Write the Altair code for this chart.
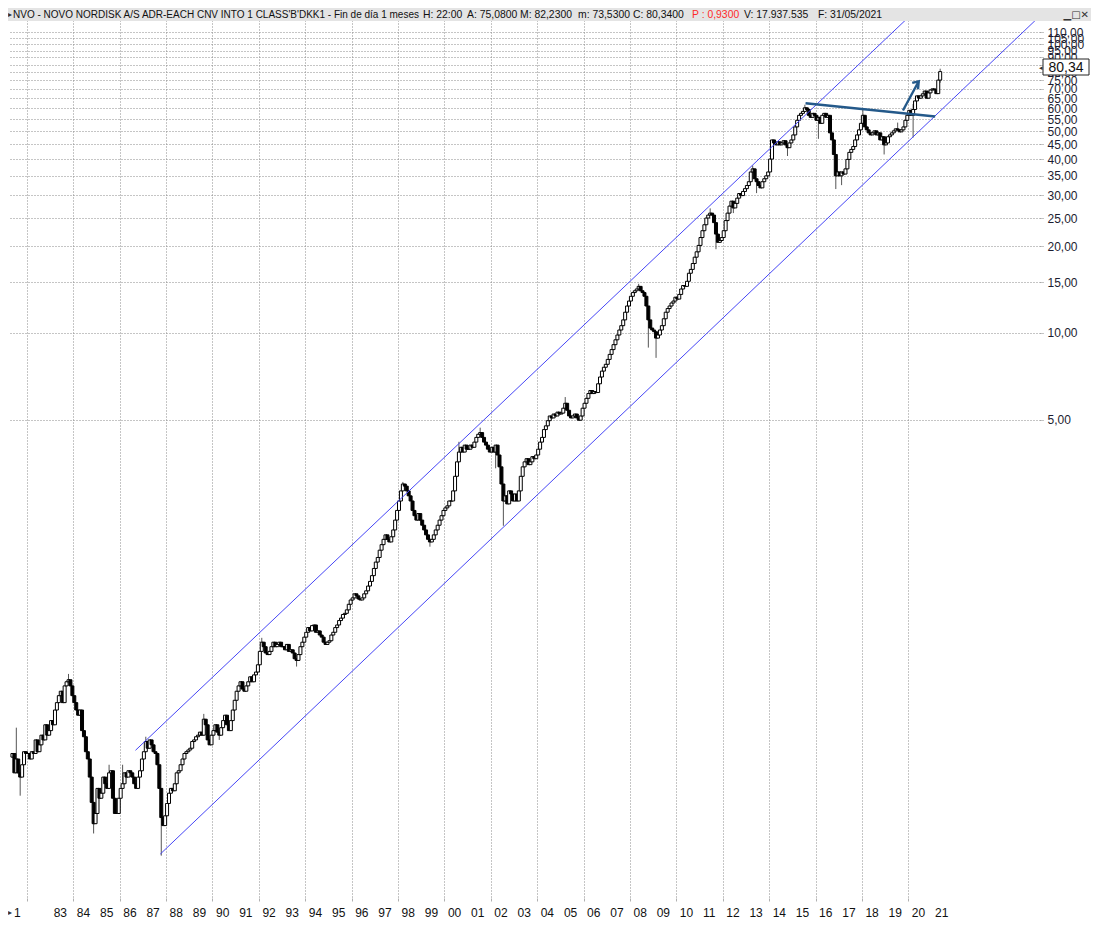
import altair as alt
import pandas as pd

# ---------------- data (monthly closes, USD) ----------------
START_YEAR, START_MONTH = 1981, 5
FIRST_OPEN = 0.34

closes_1981 = [0.35, 0.30, 0.335, 0.30, 0.29, 0.32, 0.355, 0.35]
closes_1982 = [0.35, 0.335, 0.355, 0.35, 0.39, 0.355, 0.375, 0.405, 0.39, 0.44, 0.405, 0.42]
closes_1983 = [0.455, 0.44, 0.495, 0.525, 0.555, 0.575, 0.525, 0.60, 0.62, 0.63, 0.60, 0.555]
closes_1984 = [0.525, 0.495, 0.475, 0.495, 0.42, 0.40, 0.355, 0.335, 0.29, 0.237, 0.20, 0.217]
closes_1985 = [0.265, 0.245, 0.255, 0.29, 0.275, 0.265, 0.30, 0.305, 0.245, 0.217, 0.217, 0.245]
closes_1986 = [0.265, 0.275, 0.30, 0.29, 0.305, 0.30, 0.29, 0.275, 0.265, 0.29, 0.305, 0.335]
closes_1987 = [0.355, 0.385, 0.365, 0.39, 0.375, 0.355, 0.35, 0.32, 0.265, 0.21, 0.197, 0.213]
closes_1988 = [0.235, 0.255, 0.265, 0.26, 0.275, 0.30, 0.305, 0.32, 0.335, 0.35, 0.355, 0.36]
closes_1989 = [0.365, 0.385, 0.39, 0.40, 0.405, 0.415, 0.405, 0.46, 0.44, 0.39, 0.375, 0.405]
closes_1990 = [0.42, 0.44, 0.415, 0.405, 0.43, 0.455, 0.475, 0.44, 0.42, 0.455, 0.495, 0.535]
closes_1991 = [0.575, 0.60, 0.62, 0.585, 0.575, 0.60, 0.62, 0.645, 0.62, 0.655, 0.67, 0.71]
closes_1992 = [0.79, 0.85, 0.82, 0.78, 0.77, 0.79, 0.82, 0.85, 0.82, 0.835, 0.85, 0.82]
closes_1993 = [0.82, 0.80, 0.835, 0.79, 0.80, 0.78, 0.745, 0.735, 0.77, 0.82, 0.85, 0.885]
closes_1994 = [0.92, 0.955, 0.93, 0.97, 0.975, 0.92, 0.93, 0.90, 0.885, 0.85, 0.835, 0.85]
closes_1995 = [0.86, 0.90, 0.92, 0.955, 0.975, 1.01, 1.03, 1.06, 1.07, 1.10, 1.15, 1.19]
closes_1996 = [1.21, 1.25, 1.23, 1.20, 1.19, 1.21, 1.25, 1.28, 1.33, 1.38, 1.445, 1.53]
closes_1997 = [1.61, 1.67, 1.77, 1.85, 1.93, 2.00, 1.93, 1.89, 1.97, 2.08, 2.25, 2.43]
closes_1998 = [2.62, 2.84, 3.00, 2.95, 2.84, 2.73, 2.62, 2.43, 2.33, 2.25, 2.37, 2.25]
closes_1999 = [2.16, 2.08, 2.00, 1.93, 1.89, 1.93, 2.00, 2.08, 2.16, 2.25, 2.33, 2.43]
closes_2000 = [2.48, 2.52, 2.62, 2.62, 2.84, 3.19, 3.58, 3.87, 4.02, 3.87, 4.09, 3.96]
closes_2001 = [3.96, 4.09, 4.02, 4.19, 4.35, 4.46, 4.52, 4.35, 4.19, 4.09, 3.96, 3.87]
closes_2002 = [4.02, 3.87, 4.09, 3.78, 3.44, 3.00, 2.62, 2.73, 2.56, 2.84, 2.77, 2.62]
closes_2003 = [2.77, 2.62, 2.84, 3.19, 3.44, 3.58, 3.67, 3.50, 3.58, 3.73, 3.67, 3.78]
closes_2004 = [3.96, 4.19, 4.35, 4.63, 4.77, 4.97, 5.16, 5.08, 5.24, 5.16, 5.32, 5.24]
closes_2005 = [5.28, 5.49, 5.71, 5.40, 5.16, 5.08, 5.16, 5.24, 5.08, 4.99, 5.16, 5.49]
closes_2006 = [5.71, 5.94, 6.17, 6.32, 6.17, 6.27, 6.22, 6.67, 7.04, 7.38, 7.61, 7.79]
closes_2007 = [8.10, 8.43, 8.76, 9.11, 9.47, 9.84, 10.24, 10.6, 11.1, 11.8, 12.4, 12.9]
closes_2008 = [13.4, 13.8, 14.0, 14.2, 14.5, 14.0, 13.8, 13.4, 12.4, 11.1, 10.4, 10.24]
closes_2009 = [10.1, 9.6, 9.84, 10.24, 10.6, 11.2, 11.8, 12.15, 12.4, 12.7, 12.9, 13.3]
closes_2010 = [13.1, 13.6, 14.2, 14.6, 14.5, 15.1, 16.1, 16.6, 17.4, 18.3, 19.1, 20.1]
closes_2011 = [21.4, 22.6, 23.7, 25.0, 25.6, 26.0, 25.6, 24.1, 22.0, 20.6, 20.9, 21.4]
closes_2012 = [22.6, 24.5, 26.0, 27.5, 28.6, 27.1, 28.1, 29.3, 30.4, 29.9, 30.9, 31.6]
closes_2013 = [32.4, 33.4, 36.1, 37.0, 34.2, 33.4, 32.4, 31.8, 33.4, 34.2, 35.0, 36.1]
closes_2014 = [40.0, 46.6, 45.5, 44.8, 45.9, 44.8, 45.5, 46.3, 44.8, 43.8, 45.5, 46.6]
closes_2015 = [48.5, 51.7, 54.5, 56.7, 57.6, 58.5, 60.2, 59.4, 56.7, 55.8, 57.6, 56.7]
closes_2016 = [54.5, 55.8, 53.2, 56.7, 57.6, 55.8, 56.7, 49.3, 46.6, 41.5, 35.0, 36.1]
closes_2017 = [35.0, 36.1, 35.5, 37.0, 39.9, 42.2, 43.2, 44.2, 46.6, 48.5, 50.5, 53.2]
closes_2018 = [56.7, 51.7, 50.5, 49.3, 48.5, 49.3, 50.1, 48.5, 49.3, 46.6, 47.8, 44.8]
closes_2019 = [45.5, 47.8, 48.5, 49.3, 50.1, 50.9, 50.5, 49.7, 50.5, 51.7, 54.5, 56.7]
closes_2020 = [59.0, 56.7, 59.4, 63.6, 66.2, 65.0, 66.2, 67.3, 68.8, 65.0, 67.8, 69.4]
closes_2021 = [70.0, 69.5, 67.4, 75.08, 80.34]

# notable wick extremes (year, month, price)
high_spikes = [(1981, 7, 0.43), (1983, 10, 0.66), (1985, 7, 0.32), (1986, 2, 0.32),
               (1987, 2, 0.40), (1989, 8, 0.48), (1992, 2, 0.88), (1998, 3, 3.05),
               (2000, 8, 4.2), (2001, 7, 4.7), (2005, 3, 6.0), (2008, 5, 14.8),
               (2011, 6, 27.0), (2013, 4, 38.0), (2015, 7, 61.7), (2018, 1, 60.0),
               (2019, 7, 53.5), (2020, 3, 62.0), (2021, 5, 82.23)]
low_spikes = [(1981, 9, 0.25), (1984, 11, 0.185), (1987, 10, 0.155), (1990, 4, 0.39),
              (1993, 8, 0.70), (1999, 5, 1.82), (2002, 3, 3.4), (2002, 7, 2.15),
              (2008, 10, 8.9), (2009, 2, 8.2), (2011, 9, 19.5), (2012, 6, 26.0),
              (2013, 6, 30.5), (2014, 10, 41.0), (2016, 2, 47.0), (2016, 11, 31.5),
              (2017, 2, 32.5), (2018, 12, 41.5), (2020, 3, 47.5), (2021, 5, 73.53)]

# trend channel and annotations (decimal year, price)
upper_t, upper_p = [1986.68, 2020.43], [0.359, 133.4]
lower_t, lower_p = [1987.75, 2025.46], [0.157, 120.5]
neck_t, neck_p = [2015.57, 2021.16], [62.4, 56.2]
arrow_t, arrow_p = [2019.77, 2020.45], [58.9, 74.4]
head_t, head_p = [2020.17, 2020.45, 2020.42], [73.4, 74.4, 69.8]

y_ticks = [5] + list(range(10, 115, 5))
grid_years = list(range(1982, 2022))
label_years = list(range(1983, 2022))

title_head = "NVO - NOVO NORDISK A/S ADR-EACH CNV INTO 1 CLASS'B'DKK1 - Fin de día 1 meses"
title_fields = ["H: 22:00", "A: 75,0800", "M: 82,2300", "m: 73,5300", "C: 80,3400",
                "P : 0,9300", "V: 17.937.535", "F: 31/05/2021"]
title_colors = ["#111111"] * 5 + ["#ff2a2a"] + ["#111111"] * 2
title_x = [415, 459, 512, 570, 625, 684, 736, 810]
last_label = "80,34"

# ---------------- build candle table ----------------
closes = (closes_1981 + closes_1982 + closes_1983 + closes_1984 + closes_1985 + closes_1986 +
          closes_1987 + closes_1988 + closes_1989 + closes_1990 + closes_1991 + closes_1992 +
          closes_1993 + closes_1994 + closes_1995 + closes_1996 + closes_1997 + closes_1998 +
          closes_1999 + closes_2000 + closes_2001 + closes_2002 + closes_2003 + closes_2004 +
          closes_2005 + closes_2006 + closes_2007 + closes_2008 + closes_2009 + closes_2010 +
          closes_2011 + closes_2012 + closes_2013 + closes_2014 + closes_2015 + closes_2016 +
          closes_2017 + closes_2018 + closes_2019 + closes_2020 + closes_2021)
hi_map = {(y, m): v for y, m, v in high_spikes}
lo_map = {(y, m): v for y, m, v in low_spikes}
rows = []
prev = FIRST_OPEN
for i, c in enumerate(closes):
    k = START_MONTH - 1 + i
    yr, mo = START_YEAR + k // 12, k % 12 + 1
    o = prev
    hi = max(hi_map.get((yr, mo), 0), o, c)
    lo = min(lo_map.get((yr, mo), 1e9), o, c)
    rows.append(dict(t=yr + (mo - 0.5) / 12, open=o, close=c, high=hi, low=lo,
                     dir="up" if c >= o else "down"))
    prev = c
df = pd.DataFrame(rows)

W, H = 1032, 890
FULLW = 1083
xs = alt.Scale(domain=[1981.3988, 2025.4633], nice=False, zero=False)
ys = alt.Scale(type="log", domain=[0.1106, 133.4], nice=False)
FONT = "Liberation Sans"
GRID = "#8a8a8a"

xaxis = alt.Axis(values=grid_years, orient="bottom", grid=True, gridDash=[1, 2], gridColor=GRID,
                 domain=False, ticks=True, tickSize=3, tickColor="#b0b0b0", labels=False, title=None)
yaxis = alt.Axis(values=y_ticks, orient="right", grid=True, gridDash=[1, 2], gridColor=GRID,
                 domain=False, ticks=True, tickSize=3, tickColor="#888888", tickDash=[1, 1],
                 labelExpr="replace(format(datum.value, '.2f'), '.', ',')",
                 labelOverlap=False, labelPadding=4, labelFont=FONT, labelFontSize=12,
                 labelColor="#1c1c30", labelBaseline="middle", title=None)

wicks = alt.Chart(df).mark_rule(color="#555555", strokeWidth=1, clip=True).encode(
    x=alt.X("t:Q", scale=xs, axis=xaxis),
    y=alt.Y("low:Q", scale=ys, axis=yaxis),
    y2="high:Q",
)
bodies = alt.Chart(df).mark_bar(size=3.0, stroke="black", strokeWidth=1.0, clip=True).encode(
    x=alt.X("t:Q", scale=xs),
    y=alt.Y("open:Q", scale=ys),
    y2="close:Q",
    fill=alt.Fill("dir:N", scale=alt.Scale(domain=["up", "down"], range=["white", "black"]), legend=None),
)


def seg(ts, ps, color, width):
    d = pd.DataFrame({"t": ts, "p": ps, "i": list(range(len(ts)))})
    return alt.Chart(d).mark_line(color=color, strokeWidth=width, clip=True).encode(
        x=alt.X("t:Q", scale=xs), y=alt.Y("p:Q", scale=ys), order="i:Q")


upper = seg(upper_t, upper_p, "#4646f6", 1)
lower = seg(lower_t, lower_p, "#4646f6", 1)
neck = seg(neck_t, neck_p, "#24598a", 2.4)
arrow = seg(arrow_t, arrow_p, "#24598a", 2.4)
head = seg(head_t, head_p, "#24598a", 2.4)

year_df = pd.DataFrame({"t": label_years, "lab": [str(y)[2:] for y in label_years]})
year_labels = alt.Chart(year_df).mark_text(
    align="left", baseline="middle", dx=3.5, font=FONT, fontSize=12, color="#111111"
).encode(x=alt.X("t:Q", scale=xs), y=alt.value(H + 15), text="lab:N")

one = pd.DataFrame({"a": [0]})
bar = alt.Chart(one).mark_rect(color="#e4e4e4").encode(
    x=alt.value(0), x2=alt.value(FULLW), y=alt.value(0), y2=alt.value(13))


def txt(s, x, y, size=11, color="#111111", font=FONT, align="left"):
    return alt.Chart(one).mark_text(text=s, font=font, fontSize=size, color=color, align=align,
                                    baseline="middle").encode(x=alt.value(x), y=alt.value(y))


title_layers = [txt(title_head, 5, 6.5, size=10)]
for s, c, x in zip(title_fields, title_colors, title_x):
    title_layers.append(txt(s, x, 6.5, size=10.4, color=c))

tri_top = txt("▸", 0, 6.5, size=8, color="#333333", font="DejaVu Sans")
buttons = txt("▁□✕", FULLW - 2, 6.5, size=10, color="#333333", font="DejaVu Sans", align="right")
tri_bot = txt("▸", 0, H + 15, size=8, color="#333333", font="DejaVu Sans")
one_lbl = txt("1", 6, H + 15, size=12)

box = alt.Chart(one).mark_rect(fill="white", stroke="#222222", strokeWidth=1).encode(
    x=alt.value(W + 3), x2=alt.value(W + 49), y=alt.value(51), y2=alt.value(67))
box_txt = txt(last_label, W + 26, 59.5, size=14, color="#111111", align="center")
box_arrow = txt("◂", W - 1, 59.5, size=7, color="#333333", font="DejaVu Sans")

chart = alt.layer(
    wicks, bodies, upper, lower, neck, arrow, head, year_labels,
    bar, *title_layers, tri_top, buttons, tri_bot, one_lbl, box, box_txt, box_arrow,
).properties(width=W, height=H, padding=0, background="white").configure_view(stroke=None)

chart.save("out.html", embed_options={"renderer": "svg", "actions": False})
